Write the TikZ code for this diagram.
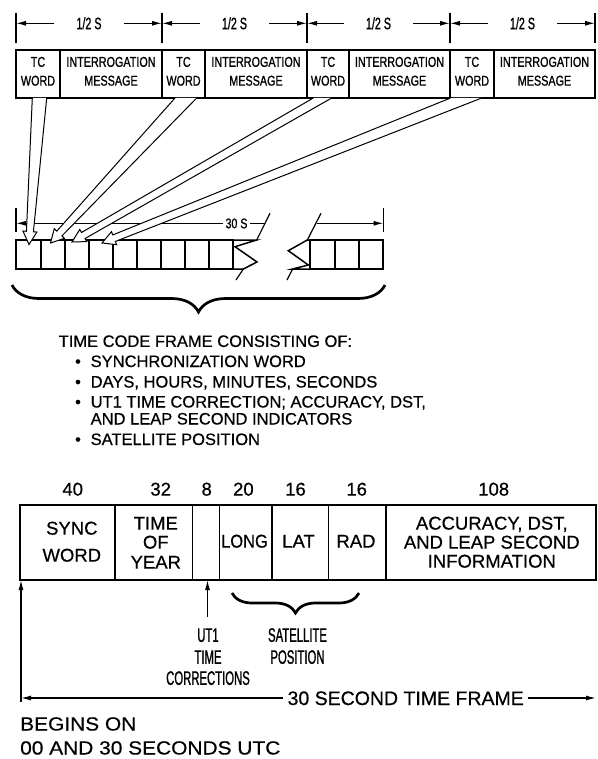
\documentclass[tikz,border=0pt]{standalone}
\usepackage{fontspec}
\setmainfont{Liberation Sans}
\newfontfamily\fbody[FakeBold=0.5]{Liberation Sans}
\newfontfamily\fcondA[FakeStretch=0.76,FakeBold=0.9]{Liberation Sans}
\newfontfamily\fcondH[FakeStretch=0.65,FakeBold=0.9]{Liberation Sans}
\newfontfamily\fcondB[FakeStretch=0.58,FakeBold=1.0]{Liberation Sans}
\newfontfamily\fcondL[FakeStretch=0.89,FakeBold=0.5]{Liberation Sans}
\newfontfamily\fwide[FakeStretch=1.1,FakeBold=0.5]{Liberation Sans}
\usetikzlibrary{arrows.meta,calc,decorations.pathreplacing}
\newcommand\hollowarrow[3]{%
  \path ($(#1)!0.5!(#2)$) coordinate (hm);
  \path ($(#3)!13pt!(hm)$) coordinate (hb);
  \filldraw[harrow] (#1) -- ($(hb)!3.5pt!-90:(#3)$) -- ($(hb)!7pt!-90:(#3)$) -- (#3)
     -- ($(hb)!7pt!90:(#3)$) -- ($(hb)!3.5pt!90:(#3)$) -- (#2);
}
\begin{document}
\begin{tikzpicture}[x=1pt,y=-1pt,
  box/.style={draw, line width=1.8pt, inner sep=0pt, outer sep=0pt},
  cell/.style={draw, line width=1.5pt, inner sep=0pt, outer sep=0pt},
  cline/.style={line width=1.5pt, line join=miter},
  t13/.style={font=\fcondA\fontsize{14.2}{16}\selectfont, inner sep=0pt},
  thalf/.style={font=\fcondH\fontsize{16.5}{18}\selectfont, inner xsep=22pt, inner ysep=0pt},
  t30/.style={font=\fcondA\fontsize{14}{15}\selectfont, inner xsep=2.5pt, inner ysep=0pt},
  body/.style={font=\fbody\fontsize{16.5}{19}\selectfont, inner sep=0pt},
  big/.style={font=\fbody\fontsize{18.5}{22}\selectfont, inner sep=0pt},
  bigL/.style={font=\fcondL\fontsize{18.5}{22}\selectfont, inner sep=0pt},
  narrow/.style={font=\fcondB\fontsize{19.5}{22}\selectfont, inner sep=0pt},
  frame/.style={font=\fbody\fontsize{19.5}{22}\selectfont, inner xsep=4pt, inner ysep=0pt},
  foot/.style={font=\fwide\fontsize{19}{22}\selectfont, inner sep=0pt},
  dim/.style={line width=1.2pt, -{Latex[length=10pt,width=5pt]}},
  tick/.style={line width=1.2pt},
  harrow/.style={line width=1pt, fill=white, draw=black, line join=miter},
  brc/.style={decorate, decoration={brace, amplitude=#1}, line width=2.7pt}
]
\useasboundingbox (0,0) rectangle (597,759);
\fill[white] (0,0) rectangle (597,759);

% ---------- top dimension line ----------
\foreach \i/\x in {0/16,1/162,2/307,3/450,4/595}{
  \coordinate (k\i) at (\x,23.3);
  \draw[tick] (\x,13.3) -- (\x,43.3);
}
\foreach \i/\a/\b in {1/0/1,2/1/2,3/2/3,4/3/4}{
  \node[thalf, anchor=base] (h\i) at ($(k\a)!0.5!(k\b)+(0,5.9)$) {1/2 S};
  \draw[dim] (h\i.west |- k\a) -- (k\a);
  \draw[dim] (h\i.east |- k\a) -- (k\b);
}

% ---------- top boxes ----------
\foreach \n/\a/\b in {tc1/16/60,tc2/162/205,tc3/307/349,tc4/450/494}{
  \node[box, minimum width={\b-\a}, minimum height=48, anchor=north west] (\n) at (\a,50) {};
  \node[t13, anchor=base] (\n-a) at ({(\a+\b)/2},66.8) {TC};
  \node[t13, anchor=base] (\n-b) at ({(\a+\b)/2},85.6) {WORD};
}
\foreach \n/\a/\b in {im1/60/162,im2/205/307,im3/349/450,im4/494/595}{
  \node[box, minimum width={\b-\a}, minimum height=48, anchor=north west] (\n) at (\a,50) {};
  \node[t13, anchor=base] (\n-a) at ({(\a+\b)/2},66.8) {INTERROGATION};
  \node[t13, anchor=base] (\n-b) at ({(\a+\b)/2},85.6) {MESSAGE};
}

% ---------- 30 s frame cells ----------
\foreach \i/\a/\b in {1/16/41,2/41/65,3/65/89,4/89/113,5/113/137,6/137/161,7/161/185,8/185/209,9/209/233}{
  \node[cell, minimum width={\b-\a}, minimum height=29, anchor=north west] (c\i) at (\a,240) {};
}
\foreach \i/\a/\b in {1/310/335,2/335/359,3/359/383}{
  \node[cell, minimum width={\b-\a}, minimum height=29, anchor=north west] (d\i) at (\a,240) {};
}
\draw[cline] (c9.north east) -- (256.7,240) -- (235,246.7) -- (257,262) -- (243.3,269) -- (c9.south east);
\draw[cline] (d1.north west) -- (307.3,240) -- (288.3,250.7) -- (308.3,265) -- (292.6,269) -- (d1.south west);
\draw[tick] (270,213.3) -- (256.7,240);
\draw[tick] (243.3,269) -- (236,280);
\draw[tick] (321,213.3) -- (307.3,240);
\draw[tick] (292.6,269) -- (287,280);

% 30 S dimension
\draw[tick] (16,208.3) -- (16,231.7);
\draw[tick] (383.5,208.3) -- (383.5,231.7);
\coordinate (m0) at (16,223.3);
\coordinate (m1) at (383.5,223.3);
\coordinate (sl) at (264.5,223.3);
\coordinate (sr) at (316.5,223.3);
\node[t30, anchor=base] (s30) at (236.5,228.3) {30 S};
\draw[dim] (s30.west |- m0) -- (m0);
\draw[tick] (s30.east |- m0) -- (sl);
\draw[dim] (sr) -- (m1);

% hollow arrows
\coordinate (a1l) at ($(tc1.south west)+(16.3,0)$);
\coordinate (a1r) at ($(tc1.south west)+(30.7,0)$);
\coordinate (a2l) at ($(tc2.south west)+(13,0)$);
\coordinate (a2r) at ($(tc2.south west)+(34.7,0)$);
\coordinate (a3l) at ($(tc3.south west)+(6.3,0)$);
\coordinate (a3r) at ($(tc3.south west)+(24.7,0)$);
\coordinate (a4l) at ($(tc4.south west)+(0.5,0)$);
\coordinate (a4r) at ($(tc4.south west)+(31.7,0)$);
\coordinate (a1t) at ($(c1.north)+(0.5,4.5)$);
\coordinate (a2t) at ($(c2.north)+(-2.5,3)$);
\coordinate (a3t) at ($(c3.north)+(-5,2)$);
\coordinate (a4t) at ($(c4.north)+(1,3)$);
\hollowarrow{a1l}{a1r}{a1t}
\hollowarrow{a2l}{a2r}{a2t}
\hollowarrow{a3l}{a3r}{a3t}
\hollowarrow{a4l}{a4r}{a4t}

% big brace
\coordinate (bra) at (385,285);
\coordinate (brb) at (12,285);
\draw[brc=27pt] (bra) -- (brb);

% ---------- text list ----------
\node[body, anchor=base west] (hd) at (58.5,346.9) {TIME CODE FRAME CONSISTING OF:};
\foreach \n/\y/\t in {l1/367/SYNCHRONIZATION WORD,l2/387.5/{DAYS, HOURS, MINUTES, SECONDS},l3/407.5/{UT1 TIME CORRECTION; ACCURACY, DST,},l5/445/SATELLITE POSITION}{
  \node[body, anchor=base] (\n-b) at (78,\y) {•};
  \node[body, anchor=base west] (\n) at (90.5,\y) {\t};
}
\node[body, anchor=base west] (l4) at (90.5,424.5) {AND LEAP SECOND INDICATORS};

% ---------- bit layout ----------
\foreach \n/\x/\t in {n1/72.7/40,n2/160.7/32,n3/206.7/8,n4/243.4/20,n5/295.5/16,n6/356.7/16,n7/493.7/108}{
  \node[big, anchor=base] (\n) at (\x,495.6) {\t};
}
\foreach \n/\a/\b in {b1/19.9/114.8,b2/114.8/192.5,b3/192.5/219.3,b4/219.3/271.7,b5/271.7/328.4,b6/328.4/385.8,b7/385.8/596}{
  \node[box, line width=1.6pt, minimum width={\b-\a}, minimum height=75, anchor=north west] (\n) at (\a,505) {};
}
\node[big, anchor=base] (sy1) at (71.8,534.6) {SYNC};
\node[big, anchor=base] (sy2) at (71.8,561.6) {WORD};
\node[big, anchor=base] (ty1) at (155.8,529.6) {TIME};
\node[big, anchor=base] (ty2) at (155.8,548.6) {OF};
\node[big, anchor=base] (ty3) at (155.8,568.6) {YEAR};
\node[bigL, anchor=base] (lo) at (244.5,547.6) {LONG};
\node[big, anchor=base] (la) at (298.5,547.6) {LAT};
\node[big, anchor=base] (ra) at (356,547.6) {RAD};
\node[big, anchor=base] (ac1) at (491.8,529.6) {ACCURACY, DST,};
\node[big, anchor=base] (ac2) at (491.8,548.6) {AND LEAP SECOND};
\node[big, anchor=base] (ac3) at (491.8,567.6) {INFORMATION};

% pointers under the layout
\coordinate (v0) at (21,702);
\draw[dim] (v0) -- (v0 |- b1.south);
\coordinate (u0) at (207.5,617);
\draw[dim] (u0) -- (u0 |- b3.south);
\coordinate (sba) at (359,593);
\coordinate (sbb) at (232,593);
\draw[brc=20pt] (sba) -- (sbb);

\node[narrow, anchor=base] (ut1) at (208,641.8) {UT1};
\node[narrow, anchor=base] (ut2) at (208,663.8) {TIME};
\node[narrow, anchor=base] (ut3) at (208,684.8) {CORRECTIONS};
\node[narrow, anchor=base] (sp1) at (297.5,641.8) {SATELLITE};
\node[narrow, anchor=base] (sp2) at (297.5,663.8) {POSITION};

% 30 second time frame
\coordinate (f0) at (21,698);
\coordinate (f1) at (596,698);
\node[frame, anchor=base] (tf) at (405.7,705) {30 SECOND TIME FRAME};
\draw[dim] (tf.west |- f0) -- (f0);
\draw[dim] (tf.east |- f0) -- (f1);

\node[foot, anchor=base west] (bg1) at (20,730.5) {BEGINS ON};
\node[foot, anchor=base west] (bg2) at (20,754.5) {00 AND 30 SECONDS UTC};
\end{tikzpicture}
\end{document}
